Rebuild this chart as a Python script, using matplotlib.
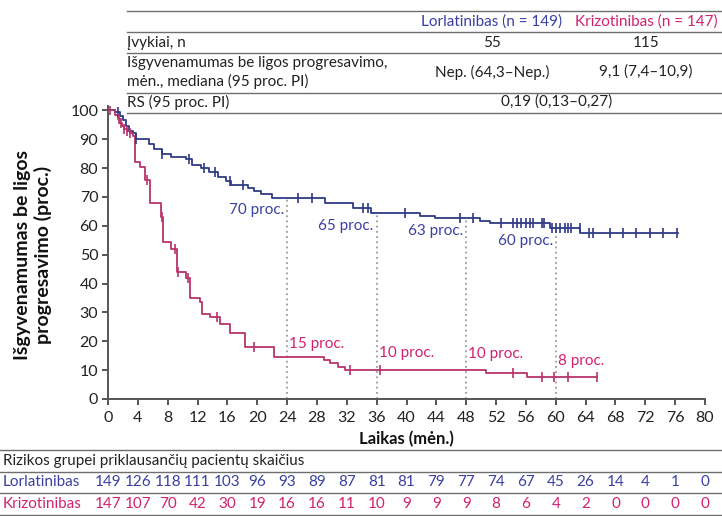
import numpy as np
import matplotlib
matplotlib.use("Agg")
import matplotlib.pyplot as plt
from matplotlib.lines import Line2D

plt.rcParams['font.family'] = ['Lato', 'DejaVu Sans']

# ---------------- data ----------------
lor_t = [0, 1.0, 1.6, 2.0, 2.4, 2.8, 3.3, 3.8, 5.5, 6.2, 7.2, 8.5, 10.5, 11.2, 12.5,
         13.5, 14.8, 15.8, 16.5, 18.8, 19.5, 20.5, 22.0, 29.1, 32.8, 35.3, 41.8,
         43.8, 49.8, 51.2, 59.2, 63.3, 76.4]
lor_s = [100, 99.3, 98.0, 96.5, 94.5, 93.0, 92.0, 90.0, 88.5, 86.5, 85.0, 84.0, 83.0,
         81.0, 80.0, 78.5, 77.0, 75.5, 74.0, 73.0, 72.0, 71.0, 69.6, 67.8, 66.0,
         64.3, 63.4, 62.6, 61.7, 61.0, 59.4, 57.4, 57.4]
lor_cens = [1.4, 3.8, 7.2, 10.8, 12.8, 14.3, 16.4, 18.1, 25.5, 27.3, 34.2, 34.9, 39.8,
            47.2, 48.9, 52.7, 54.3, 54.8, 55.4, 56.0, 56.6, 57.0, 58.2, 58.4, 59.5,
            60.1, 60.6, 61.2, 61.7, 62.1, 63.2, 64.4, 65.0, 67.3, 69.0, 70.8, 72.6,
            74.4, 76.2]

kri_t = [0, 0.9, 1.3, 1.6, 1.9, 2.2, 2.6, 3.0, 3.3, 3.6, 4.3, 4.9, 5.6, 7.1, 7.4, 8.5,
         9.2, 10.5, 11.0, 12.3, 12.6, 13.7, 15.0, 16.4, 18.4, 22.2, 28.9, 29.8, 30.8,
         31.8, 50.7, 56.1, 65.5]
kri_s = [100, 98.5, 97.0, 95.5, 94.5, 93.5, 93.0, 92.0, 91.0, 82.0, 80.5, 76.0, 68.0,
         63.0, 54.5, 52.0, 44.0, 42.0, 35.0, 33.5, 29.6, 28.5, 26.0, 23.0, 18.0, 14.6,
         13.5, 12.3, 11.0, 10.0, 9.1, 7.5, 7.5]
kri_cens = [0.3, 1.5, 1.8, 2.2, 2.6, 3.0, 5.2, 7.2, 9.0, 9.4, 10.7, 14.6, 19.5, 32.4,
            36.5, 54.3, 58.1, 59.8, 61.7, 65.5]

landmarks = [24, 36, 48, 60]
lor_labels = ["70 proc.", "65 proc.", "63 proc.", "60 proc."]
kri_labels = ["15 proc.", "10 proc.", "10 proc.", "8 proc."]

risk_times = list(range(0, 81, 4))
lor_risk = [149, 126, 118, 111, 103, 96, 93, 89, 87, 81, 81, 79, 77, 74, 67, 45, 26, 14, 4, 1, 0]
kri_risk = [147, 107, 70, 42, 30, 19, 16, 16, 11, 10, 9, 9, 9, 8, 6, 4, 2, 0, 0, 0, 0]

arm_names = ["Lorlatinibas", "Krizotinibas"]
n_pat = [149, 147]
events = ["55", "115"]
median_pfs = ["Nep. (64,3–Nep.)", "9,1 (7,4–10,9)"]
hr_text = "0,19 (0,13–0,27)"

# ---------------- styles ----------------
BLUE_LINE = '#2e3a87'
RED_LINE = '#b8336a'
BLUE_TXT = '#3a3fa3'
RED_TXT = '#d3206e'
GRAY = '#555555'
FS = 11
W, H = 722, 516

fig = plt.figure(figsize=(7.22, 5.16), dpi=100)
ax = fig.add_axes([108 / W, 1 - 399 / H, (705 - 108) / W, (399 - 106) / H])


def step_val(ts, ss, x):
    i = np.searchsorted(np.asarray(ts), x, side='right') - 1
    return np.asarray(ss)[i]


ax.step(lor_t, lor_s, where='post', color=BLUE_LINE, lw=1.3, zorder=3)
ax.step(kri_t, kri_s, where='post', color=RED_LINE, lw=1.3, zorder=3)
ax.plot(lor_cens, step_val(lor_t, lor_s, lor_cens), ls='none', marker='|',
        ms=7, mew=1.2, color=BLUE_LINE, zorder=4)
ax.plot(kri_cens, step_val(kri_t, kri_s, kri_cens), ls='none', marker='|',
        ms=7, mew=1.2, color=RED_LINE, zorder=4)

lor_lab_pos = [(-0.4, -4.3, 'right'), (-0.4, -4.2, 'right'), (-0.4, -4.5, 'right'), (-0.4, -4.5, 'right')]
kri_lab_pos = [(0.3, 4.4, 'left'), (0.3, 5.8, 'left'), (0.3, 5.6, 'left'), (0.3, 5.8, 'left')]
for i, m in enumerate(landmarks):
    yb = step_val(lor_t, lor_s, m)
    yr = step_val(kri_t, kri_s, m)
    ax.plot([m, m], [0, yb], ls=(0, (1.2, 2.2)), color='#8a8a8a', lw=1.1, zorder=1)
    dx, dy, ha = lor_lab_pos[i]
    ax.text(m + dx, yb + dy, lor_labels[i], color=BLUE_TXT, fontsize=FS, ha=ha, va='center')
    dx, dy, ha = kri_lab_pos[i]
    ax.text(m + dx, yr + dy, kri_labels[i], color=RED_TXT, fontsize=FS, ha=ha, va='center')

ax.set_xlim(0, 80)
ax.set_ylim(0, 101.5)
ax.set_xticks(risk_times)
ax.set_yticks(range(0, 101, 10))
for s in ['top', 'right']:
    ax.spines[s].set_visible(False)
for s in ['left', 'bottom']:
    ax.spines[s].set_color(GRAY)
    ax.spines[s].set_linewidth(1.4)
ax.tick_params(axis='both', colors=GRAY, width=1.4, length=4, labelsize=11.5, labelcolor='#222222', pad=3)
ax.tick_params(axis='x', pad=5)
ax.set_xlabel("Laikas (mėn.)", fontsize=12, fontweight='bold', labelpad=4, color='#111111')
fig.text(33 / W, 1 - 255 / H, "Išgyvenamumas be ligos\nprogresavimo (proc.)", rotation=90,
         ha='center', va='center', fontsize=14, fontweight='bold', linespacing=1.2,
         color='#111111')

# ---------------- top table ----------------
def hline(y, x0, x1=W):
    fig.add_artist(Line2D([x0 / W, x1 / W], [1 - y / H, 1 - y / H], color='#6e6e6e', lw=1.0))


def ftext(x, y, s, **kw):
    fig.text(x / W, 1 - y / H, s, va='center', fontsize=FS, **kw)


for y in [11, 32, 52.5, 93, 113]:
    hline(y, 127)
col_x = [492, 646]
ftext(col_x[0], 22, f"{arm_names[0]} (n = {n_pat[0]})", ha='center', color=BLUE_TXT)
ftext(col_x[1], 22, f"{arm_names[1]} (n = {n_pat[1]})", ha='center', color=RED_TXT)
ftext(127, 43, "Įvykiai, n", ha='left', color='#222222')
ftext(127, 63, "Išgyvenamumas be ligos progresavimo,", ha='left', color='#222222')
ftext(127, 81, "mėn., mediana (95 proc. PI)", ha='left', color='#222222')
ftext(127, 102, "RS (95 proc. PI)", ha='left', color='#222222')
for i in range(2):
    ftext(col_x[i], 43, events[i], ha='center', color='#222222')
    ftext(col_x[i], 72, median_pfs[i], ha='center', color='#222222')
ftext(557, 102, hr_text, ha='center', color='#222222')

# ---------------- risk table ----------------
for y in [450, 471.5, 493, 515]:
    hline(y, 0)
ftext(3, 461, "Rizikos grupei priklausančių pacientų skaičius", ha='left', color='#222222')
ftext(3, 482, arm_names[0], ha='left', color=BLUE_TXT)
ftext(3, 504, arm_names[1], ha='left', color=RED_TXT)
for t, a, b in zip(risk_times, lor_risk, kri_risk):
    xp = ax.transData.transform((t, 0))[0] / fig.dpi / fig.get_figwidth() * W
    ftext(xp, 482, str(a), ha='center', color=BLUE_TXT)
    ftext(xp, 504, str(b), ha='center', color=RED_TXT)

fig.savefig("out.png", dpi=100)
